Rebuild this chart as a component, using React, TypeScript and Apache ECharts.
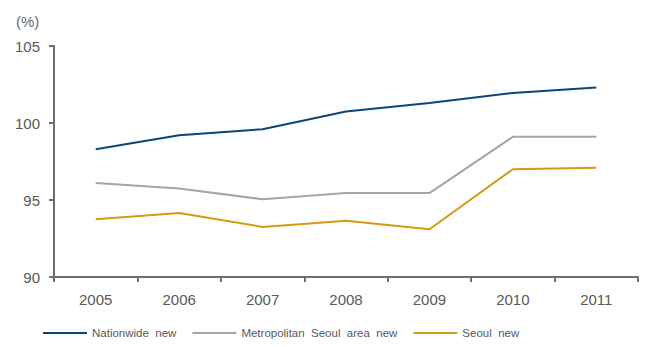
import React, { useEffect, useRef } from "react";
import * as echarts from "echarts";

const years = ["2005", "2006", "2007", "2008", "2009", "2010", "2011"];
const nationwide = [98.3, 99.2, 99.6, 100.75, 101.3, 101.95, 102.3];
const metroSeoul = [96.1, 95.75, 95.05, 95.45, 95.45, 99.1, 99.1];
const seoul = [93.75, 94.15, 93.25, 93.65, 93.1, 97.0, 97.1];
const seriesNames = ["Nationwide  new", "Metropolitan  Seoul  area  new", "Seoul  new"];
const colors = ["#0b4677", "#a5a5a5", "#d49a12"];

const FONT = "'Liberation Sans Narrow', 'Liberation Sans', Arial, sans-serif";

export default function App() {
  const ref = useRef<HTMLDivElement>(null);
  useEffect(() => {
    if (!ref.current) return;
    const chart = echarts.init(ref.current, undefined, { renderer: "svg" });
    const data = [nationwide, metroSeoul, seoul];
    chart.setOption({
      animation: false,
      color: colors,
      grid: { left: 54, right: 7, top: 46, bottom: 70, containLabel: false },
      graphic: [
        {
          type: "text",
          left: 16,
          top: 14,
          style: { text: "(%)", fill: "#6b6b6b", font: `15px ${FONT}` },
        },
      ],
      legend: {
        bottom: 3,
        left: 38,
        icon: "rect",
        itemWidth: 44,
        itemHeight: 2,
        itemGap: 16,
        textStyle: { color: "#595959", fontSize: 11.5, fontFamily: FONT },
        data: seriesNames,
      },
      xAxis: {
        type: "category",
        data: years,
        boundaryGap: true,
        axisLine: { lineStyle: { color: "#6d6d72", width: 2 } },
        axisTick: { show: true, length: 5, lineStyle: { color: "#6d6d72", width: 2 } },
        axisLabel: { color: "#595959", fontSize: 15, fontFamily: FONT, margin: 15 },
      },
      yAxis: {
        type: "value",
        min: 90,
        max: 105,
        interval: 5,
        splitLine: { show: false },
        axisLine: { show: true, lineStyle: { color: "#6d6d72", width: 2 } },
        axisTick: { show: true, length: 5, lineStyle: { color: "#6d6d72", width: 2 } },
        axisLabel: { color: "#595959", fontSize: 15, fontFamily: FONT, margin: 14 },
      },
      series: seriesNames.map((name, i) => ({
        name,
        type: "line",
        data: data[i],
        symbol: "none",
        lineStyle: { width: 2, color: colors[i] },
        itemStyle: { color: colors[i] },
      })),
    });
    return () => chart.dispose();
  }, []);
  return <div ref={ref} style={{ width: 645, height: 347, position: "absolute", left: 0, top: 0 }} />;
}
